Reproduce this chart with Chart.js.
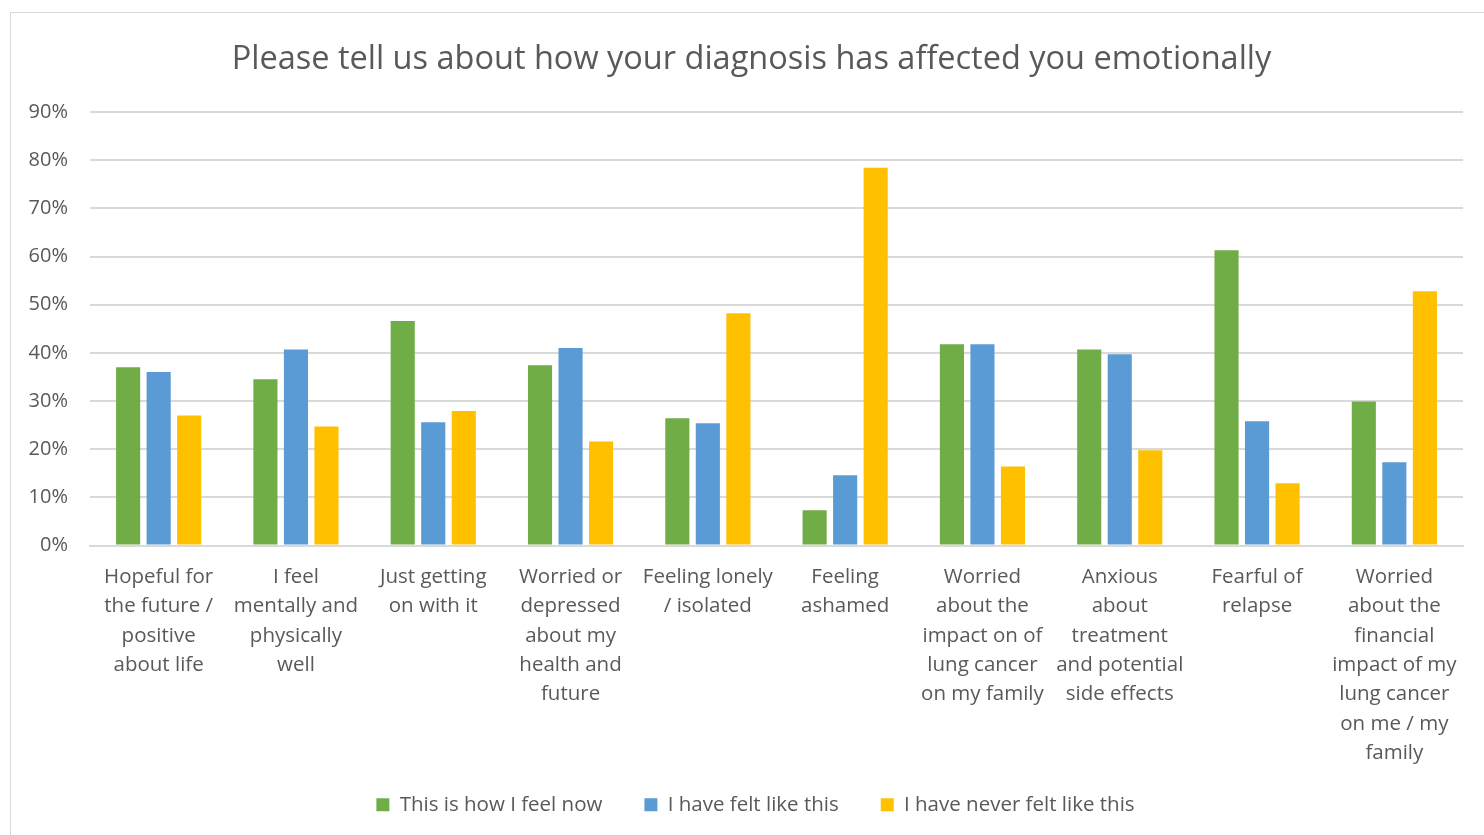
<!DOCTYPE html>
<html>
<head>
<meta charset="utf-8">
<script src="https://cdn.jsdelivr.net/npm/chart.js@4.4.0/dist/chart.umd.min.js"></script>
<style>
  html, body { margin: 0; padding: 0; background: #fff; }
  .frame {
    position: absolute; left: 10px; top: 12px;
    width: 1500px; height: 840px;
    border: 1px solid #d9d9d9; box-sizing: border-box;
  }
  .wrap { position: absolute; left: 0; top: 0; width: 1484px; height: 835px; }
</style>
</head>
<body>
<div class="frame"></div>
<div class="wrap"><canvas id="emotionChart"></canvas></div>
<script>
// --- DATA ---
const categories = [
    ['Hopeful for', 'the future /', 'positive', 'about life'],
    ['I feel', 'mentally and', 'physically', 'well'],
    ['Just getting', 'on with it'],
    ['Worried or', 'depressed', 'about my', 'health and', 'future'],
    ['Feeling lonely', '/ isolated'],
    ['Feeling', 'ashamed'],
    ['Worried', 'about the', 'impact on of', 'lung cancer', 'on my family'],
    ['Anxious', 'about', 'treatment', 'and potential', 'side effects'],
    ['Fearful of', 'relapse'],
    ['Worried', 'about the', 'financial', 'impact of my', 'lung cancer', 'on me / my', 'family']
];

const feelNow = [0.370, 0.345, 0.466, 0.374, 0.264, 0.073, 0.418, 0.407, 0.613, 0.299];
const feltBefore = [0.360, 0.407, 0.256, 0.410, 0.254, 0.146, 0.418, 0.397, 0.258, 0.173];
const neverFelt = [0.270, 0.247, 0.279, 0.216, 0.482, 0.784, 0.164, 0.198, 0.129, 0.528];

const seriesNames = ['This is how I feel now', 'I have felt like this', 'I have never felt like this'];
const yTicks = [0, 0.1, 0.2, 0.3, 0.4, 0.5, 0.6, 0.7, 0.8, 0.9];

// --- STYLE ---
const textColor = '#595959';
const gridColor = '#d9d9d9';
const fontFamily = '"Open Sans", "Noto Sans", sans-serif';

const colors = ['#70ad47', '#5b9bd5', '#ffc000'];

function makeDataset(label, values, color) {
    return {
        label: label,
        data: values,
        backgroundColor: color,
        borderWidth: 0,
        categoryPercentage: 0.667,
        barPercentage: 0.79
    };
}

// nudge title/legend toward the plot centre and let long category labels
// run past the (shortened) x axis box
const layoutTweaks = {
    id: 'layoutTweaks',
    afterLayout(chart) {
        const shift = (box, dx) => {
            if (!box) return;
            box.left += dx;
            box.right += dx;
        };
        shift(chart.titleBlock, 10);
        shift(chart.legend, 14);
        chart.scales.x._computeLabelArea = () => undefined;
    }
};

const ctx = document.getElementById('emotionChart').getContext('2d');

new Chart(ctx, {
    type: 'bar',
    data: {
        labels: categories,
        datasets: [
            makeDataset(seriesNames[0], feelNow, colors[0]),
            makeDataset(seriesNames[1], feltBefore, colors[1]),
            makeDataset(seriesNames[2], neverFelt, colors[2])
        ]
    },
    plugins: [layoutTweaks],
    options: {
        responsive: true,
        maintainAspectRatio: false,
        animation: false,
        layout: {
            padding: { left: 20, right: 21, top: 40, bottom: 10 }
        },
        plugins: {
            title: {
                display: true,
                text: 'Please tell us about how your diagnosis has affected you emotionally',
                color: textColor,
                font: { family: fontFamily, size: 32.5, weight: 'normal' },
                padding: { top: 0, bottom: 33 }
            },
            legend: {
                position: 'bottom',
                labels: {
                    color: textColor,
                    font: { family: fontFamily, size: 20.5 },
                    boxWidth: 13,
                    boxHeight: 13,
                    padding: 42
                }
            },
            tooltip: { enabled: false }
        },
        scales: {
            y: {
                min: 0,
                max: 0.9,
                afterBuildTicks: axis => {
                    axis.ticks = yTicks.map(v => ({ value: v }));
                },
                afterFit: axis => { axis.width = 70; },
                border: { display: false },
                grid: { color: gridColor, lineWidth: 2, drawTicks: false },
                ticks: {
                    color: textColor,
                    font: { family: fontFamily, size: 20 },
                    padding: 22,
                    callback: v => Math.round(v * 100) + '%'
                }
            },
            x: {
                afterFit: axis => { axis.height = 207; },
                border: { color: gridColor, width: 2 },
                grid: { display: false },
                ticks: {
                    color: textColor,
                    font: { family: fontFamily, size: 20.5, lineHeight: 1.43 },
                    padding: 9,
                    maxRotation: 0,
                    autoSkip: false
                }
            }
        }
    }
});
</script>
</body>
</html>
